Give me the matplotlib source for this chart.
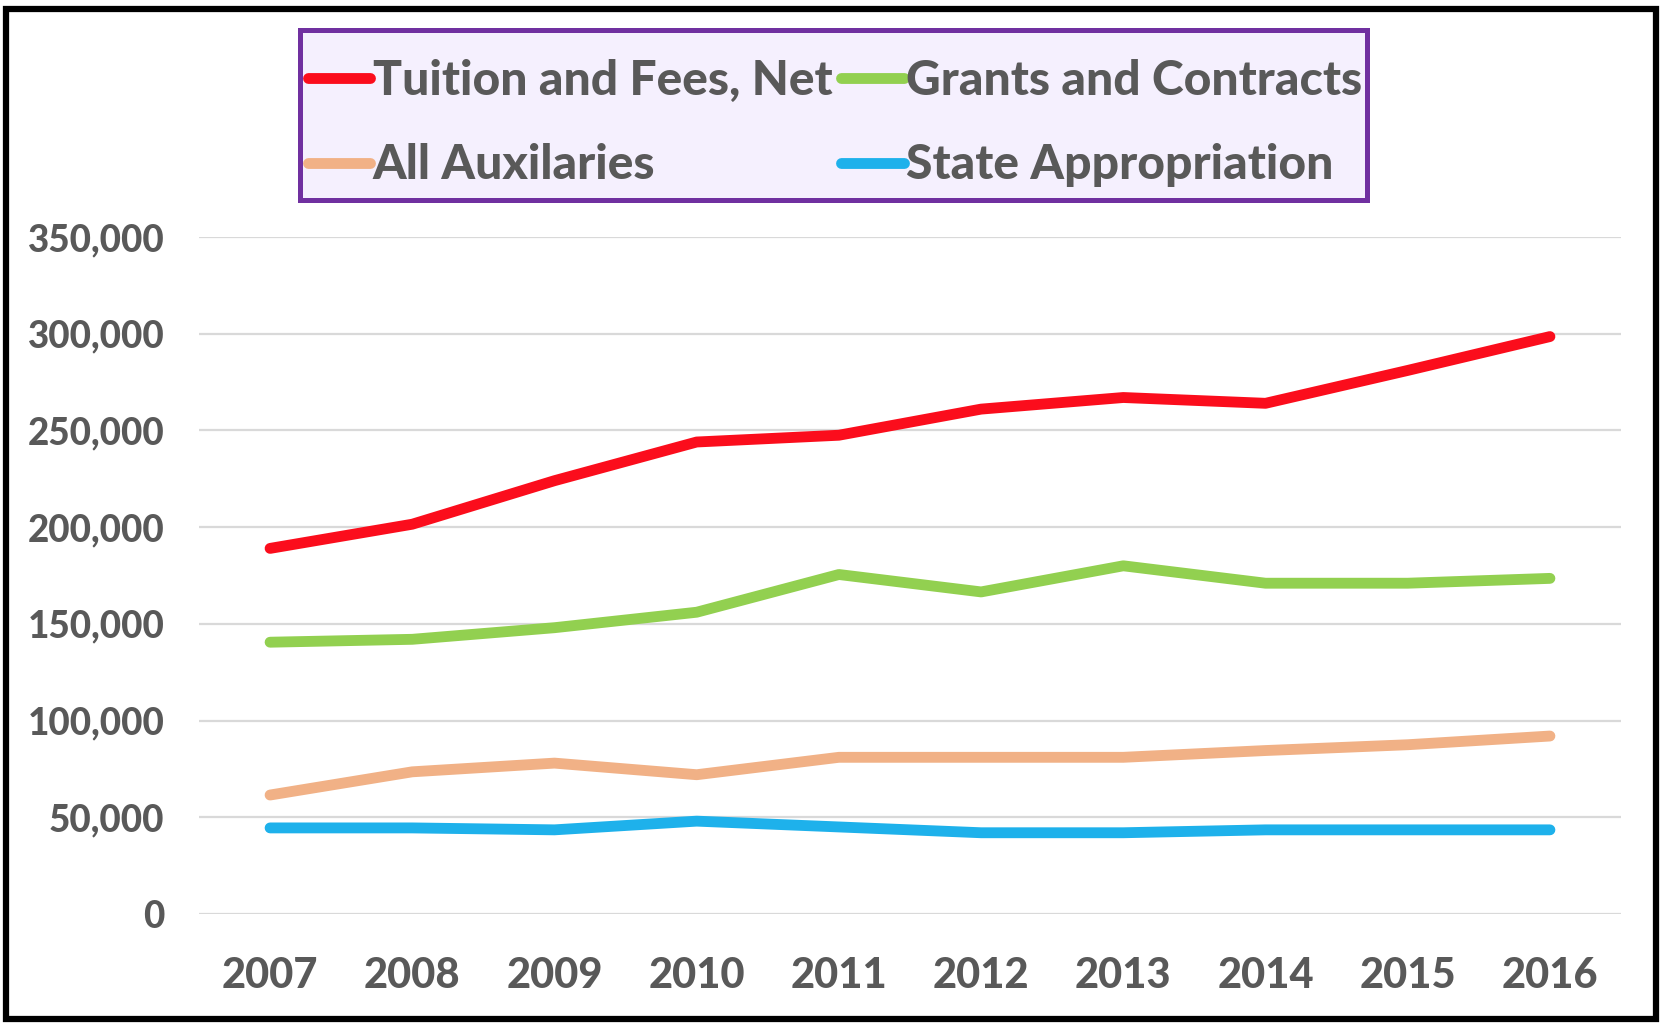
import matplotlib
matplotlib.use("Agg")
import matplotlib.pyplot as plt
from matplotlib.patches import Rectangle
from matplotlib.ticker import FuncFormatter

#data
years = ['2007', '2008', '2009', '2010', '2011', '2012', '2013', '2014', '2015', '2016']
tuition = [189000, 201500, 224000, 244000, 247500, 261000, 267000, 264000, 281000, 298500]
grants = [140500, 142000, 148000, 156000, 175500, 166500, 180000, 171000, 171000, 173500]
auxiliaries = [61500, 73500, 78000, 72000, 81000, 81000, 81000, 84500, 87500, 92000]
state = [44500, 44500, 43500, 48000, 45000, 42000, 42000, 43500, 43500, 43500]

series_names = ['Tuition and Fees, Net', 'Grants and Contracts', 'All Auxilaries', 'State Appropriation']
series_colors = ['#FB0D1C', '#92D050', '#F1B186', '#1EB1EB']

plt.rcParams['font.family'] = ['Lato', 'DejaVu Sans']
plt.rcParams['font.weight'] = 900
textcol = '#595959'
W, H = 1665, 1028

fig = plt.figure(figsize=(16.65, 10.28), dpi=100)
ax = fig.add_axes([0.1195, 0.1109, 0.8541, 0.6586])

x = list(range(len(years)))
handles = []
for vals, name, col in zip([tuition, grants, auxiliaries, state], series_names, series_colors):
    h, = ax.plot(x, vals, color=col, lw=7.8, solid_capstyle='round', solid_joinstyle='round', label=name)
    handles.append(h)

ax.set_xlim(-0.5, 9.5)
ax.set_ylim(0, 350000)
ax.set_yticks(range(0, 350001, 50000))
ax.yaxis.set_major_formatter(FuncFormatter(lambda v, p: '{:,.0f}'.format(v)))
ax.set_xticks(x)
ax.set_xticklabels(years)
ax.grid(axis='y', color='#D9D9D9', lw=1.6)
ax.set_axisbelow(True)
for s in ax.spines.values():
    s.set_visible(False)
ax.tick_params(length=0, colors=textcol)
ax.tick_params(axis='y', pad=25, labelsize=26.5)
ax.tick_params(axis='x', pad=31, labelsize=30)

#legend box drawn separately so the text sits where it should
fig.patches.append(Rectangle((300/W, 1 - 200/H), 1067/W, 170/H, transform=fig.transFigure,
                             facecolor='#F5F0FE', edgecolor='#7030A0', lw=3.6, zorder=1))

#legend order: row1 tuition, grants ; row2 aux, state
order = [0, 2, 1, 3]
leg = fig.legend([handles[i] for i in order], [series_names[i] for i in order],
                 ncol=2, loc='center left', bbox_to_anchor=(308/W, 1 - 123/H),
                 fontsize=34.6, frameon=False, handlelength=1.3,
                 handletextpad=0.05, columnspacing=0.18, labelspacing=0.85,
                 borderpad=0, borderaxespad=0)
leg.set_zorder(2)
for t in leg.get_texts():
    t.set_color(textcol)
for lh in leg.get_lines():
    lh.set_linewidth(7.8)

#outer black frame
fig.patches.append(Rectangle((6.5/W, 9/H), (1656-6.5)/W, (1019-9)/H,
                             transform=fig.transFigure, fill=False, edgecolor='black', lw=4.5))

fig.savefig('out.png', dpi=100)
